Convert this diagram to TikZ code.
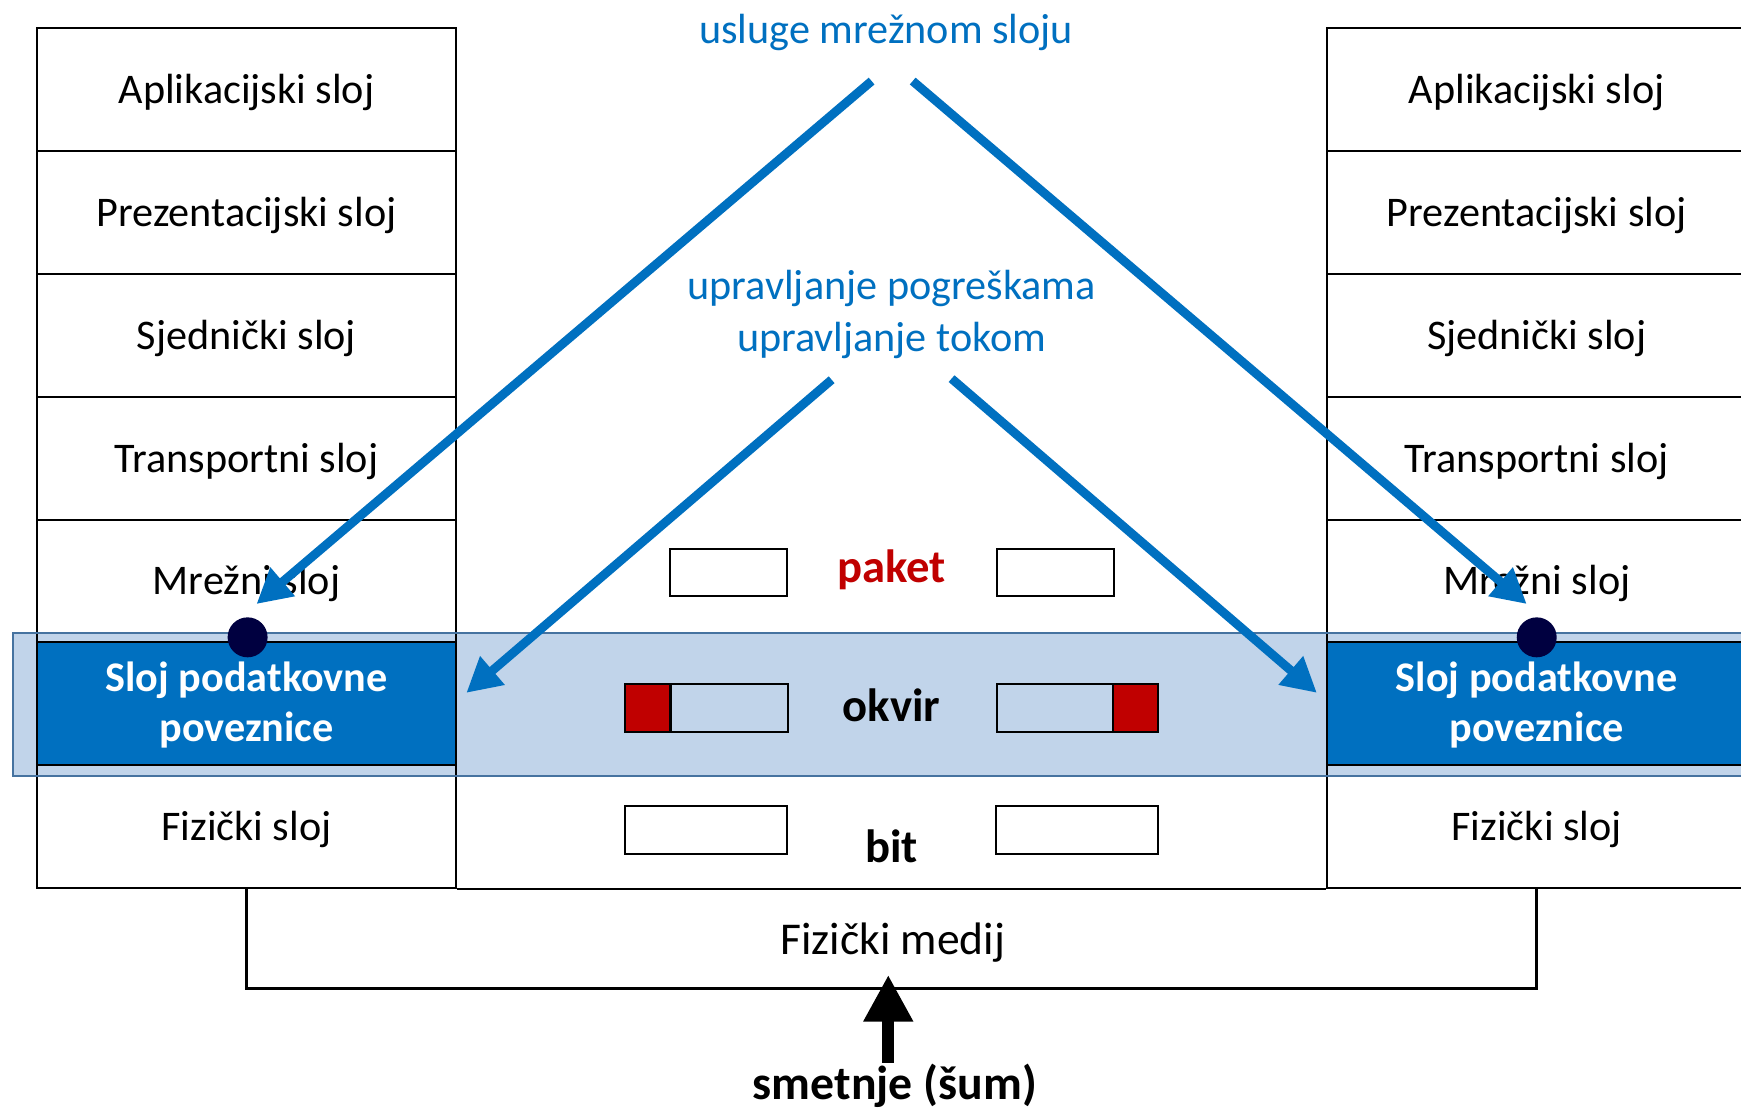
\documentclass[tikz,border=0pt]{standalone}
\usepackage{fontspec}
\setmainfont{Carlito}
\usetikzlibrary{arrows.meta}
\definecolor{cblue}{HTML}{0070C0}
\definecolor{bandfill}{RGB}{193,212,234}
\definecolor{bandline}{RGB}{70,115,160}
\definecolor{cred}{HTML}{C00000}
\definecolor{navy}{HTML}{000040}
\begin{document}
\begin{tikzpicture}[x=1pt,y=-1pt,
  cell/.style={draw=black, line width=1.8pt, minimum width=378pt, minimum height=110.6pt,
    inner sep=0pt, font=\fontsize{38}{45}\selectfont, text height=30pt, text depth=5pt},
  darkcell/.style={cell, fill=cblue},
  whitebold/.style={anchor=base, text=white, font=\fontsize{38}{45}\selectfont\bfseries, inner sep=0pt},
  bluetxt/.style={anchor=base, text=cblue, font=\fontsize{38}{45}\selectfont, inner sep=0pt},
  boldlbl/.style={anchor=base, font=\fontsize{42}{48}\selectfont\bfseries, inner sep=0pt},
  pdu/.style={draw=black, line width=1.8pt, minimum width=106pt, minimum height=43pt, inner sep=0pt},
  pduwide/.style={pdu, minimum width=146pt},
  redpart/.style={draw=black, line width=1.8pt, fill=cred, minimum width=41pt, minimum height=43pt, inner sep=0pt},
  bluearrow/.style={draw=cblue, line width=8pt, -{Triangle[length=31pt,width=32pt]}},
  dotn/.style={circle, fill=navy, minimum size=36pt, inner sep=0pt},
  medline/.style={draw=black, line width=2.4pt}
]
\useasboundingbox (0,0) rectangle (1568,1001);
\clip (0,0) rectangle (1568,1001);
\fill[white] (0,0) rectangle (1568,1001);

% band fill
\fill[bandfill] (12,570) rectangle (1620,699);

% left stack
\node[cell] (L1) at (222,80.8) {Aplikacijski sloj};
\node[cell] (L2) at (222,191.4) {Prezentacijski sloj};
\node[cell] (L3) at (222,302) {Sjednički sloj};
\node[cell] (L4) at (222,412.6) {Transportni sloj};
\node[cell] (L5) at (222,523.2) {Mrežni sloj};
\node[darkcell] (L6) at (222,633.8) {};
\node[cell] (L7) at (222,744.4) {Fizički sloj};
% right stack
\node[cell] (R1) at (1384,80.8) {Aplikacijski sloj};
\node[cell] (R2) at (1384,191.4) {Prezentacijski sloj};
\node[cell] (R3) at (1384,302) {Sjednički sloj};
\node[cell] (R4) at (1384,412.6) {Transportni sloj};
\node[cell] (R5) at (1384,523.2) {Mrežni sloj};
\node[darkcell] (R6) at (1384,633.8) {};
\node[cell] (R7) at (1384,744.4) {Fizički sloj};

\node[whitebold] (L6a) at (222,623) {Sloj podatkovne};
\node[whitebold] (L6b) at (222,668) {poveznice};
\node[whitebold] (R6a) at (1384,623) {Sloj podatkovne};
\node[whitebold] (R6b) at (1384,668) {poveznice};

% band border
\draw[bandline, line width=1.8pt] (12,570) rectangle (1620,699);

% centre bottom line and physical medium
\draw[medline] (L7.south east) -- (R7.south west);
\draw[medline] (L7.south) -- ++(0,89.5) -| (R7.south);
\node[anchor=base, font=\fontsize{41}{48}\selectfont, inner sep=0pt] (med) at (804,860) {Fizički medij};

% PDU boxes
\node[pdu] (p1) at (656,515.5) {};
\node[pdu] (p2) at (950.5,515.5) {};
\node[redpart] (o1r) at (583.5,637.5) {};
\node[pdu] (o1) at (656.5,637.5) {};
\node[pdu] (o2) at (950.5,637.5) {};
\node[redpart] (o2r) at (1022.5,637.5) {};
\node[pduwide] (b1) at (636,747.5) {};
\node[pduwide] (b2) at (970,747.5) {};

\node[boldlbl, text=cred] (lp) at (803,525) {paket};
\node[boldlbl] (lo) at (803,650) {okvir};
\node[boldlbl] (lb) at (803,777) {bit};

% service texts
\node[bluetxt] (t1) at (798,39) {usluge mrežnom sloju};
\node[bluetxt] (t2) at (803,270) {upravljanje pogreškama};
\node[bluetxt] (t3) at (803,316.7) {upravljanje tokom};

% dots
\node[dotn] (dL) at (223,574) {};
\node[dotn] (dR) at (1384,574) {};

% blue arrows
\coordinate (a1s) at (785,73);
\coordinate (a1e) at (231,544);
\coordinate (a2s) at (822,73);
\coordinate (a2e) at (1375,544);
\coordinate (a3s) at (749,342);
\coordinate (a3e) at (420,624);
\coordinate (a4s) at (857,341);
\coordinate (a4e) at (1186,624);
\draw[bluearrow] (a1s) -- (a1e);
\draw[bluearrow] (a2s) -- (a2e);
\draw[bluearrow] (a3s) -- (a3e);
\draw[bluearrow] (a4s) -- (a4e);

% noise
\node[anchor=base, font=\fontsize{43}{48}\selectfont\bfseries, inner sep=0pt] (noise) at (806,990) {smetnje (šum)};
\coordinate (ns) at (800,957);
\coordinate (ne) at (800,878);
\draw[line width=11pt, -{Triangle[length=42pt,width=42pt]}] (ns) -- (ne);
\end{tikzpicture}
\end{document}
